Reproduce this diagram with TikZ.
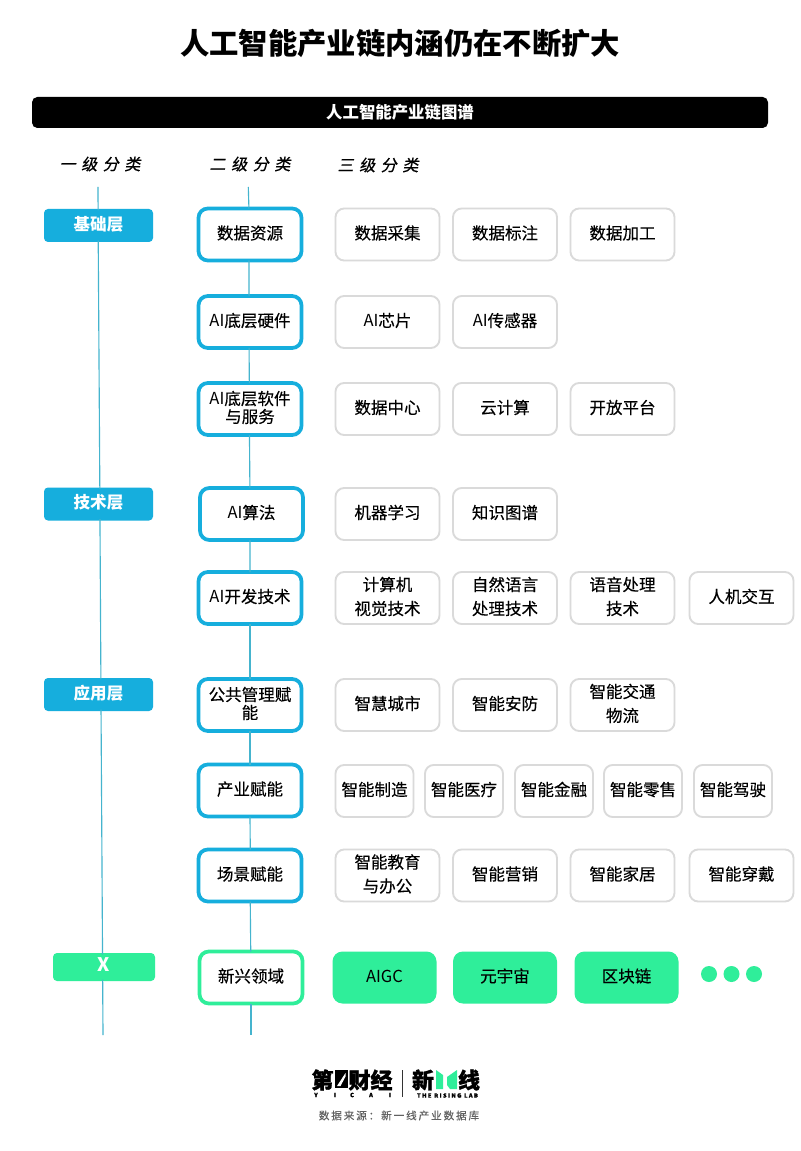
\documentclass[tikz,border=0pt]{standalone}
\usepackage{fontspec}
\setmainfont{Noto Sans CJK SC}
\newfontfamily\midfont[FakeBold=0.25]{Noto Sans CJK SC}
\newfontfamily\aifont{Noto Sans CJK SC}
\newfontfamily\headfont[FakeSlant=0.2,FakeBold=0.8,LetterSpace=35]{Noto Sans CJK SC}
\newfontfamily\srcfont[FakeBold=0.2,LetterSpace=17]{Noto Sans CJK SC}
\newfontfamily\logofont[BoldFeatures={FakeBold=1.2}]{Noto Sans CJK SC}
\newfontfamily\logolat[LetterSpace=22,BoldFeatures={FakeBold=1}]{Noto Sans CJK SC}
\definecolor{blue1}{HTML}{16AEDD}
\definecolor{line1}{HTML}{45B4CE}
\definecolor{green1}{HTML}{2FEE9A}
\definecolor{gray1}{HTML}{DADADA}
\newcommand{\AI}{{\aifont AI}}
\tikzset{
  size/.style 2 args={minimum width=#1*0.75pt,minimum height=#2*0.75pt},
  base/.style={inner sep=0pt,outer sep=0pt,align=center},
  oneline/.style={text height=10pt,text depth=2.8pt},
  twotight/.style={text height=23.5pt,text depth=2.8pt},
  twoloose/.style={text height=28pt,text depth=2.8pt},
  lone/.style={base,oneline,fill=blue1,rounded corners=3pt,text=white,font=\fontsize{12.4pt}{15pt}\bfseries\selectfont,size={109}{33}},
  ltwo/.style={base,oneline,draw=blue1,fill=white,line width=2.8pt,rounded corners=7pt,text=black,font=\midfont\fontsize{12.4pt}{13.5pt}\selectfont,size={103}{52}},
  lthree/.style={base,oneline,draw=gray1,fill=white,line width=1.4pt,rounded corners=6.5pt,text=black,font=\midfont\fontsize{12.4pt}{18pt}\selectfont,size={104}{52}},
  lgreen/.style={base,oneline,fill=green1,rounded corners=7.5pt,text=black,font=\midfont\fontsize{12.4pt}{18pt}\selectfont,size={104}{52}},
  conn/.style={draw=line1,line width=0.85pt},
  head/.style={base,font=\headfont\fontsize{12pt}{14pt}\selectfont},
  dotn/.style={circle,fill=green1,inner sep=0pt,outer sep=0pt,minimum size=12pt},
  logotext/.style={base,font=\logofont\bfseries\fontsize{16.5pt}{18pt}\selectfont},
  logosmall/.style={base,font=\logolat\bfseries\fontsize{4.4pt}{5pt}\selectfont}
}
\begin{document}
\begin{tikzpicture}[x=0.75pt,y=-0.75pt]
\useasboundingbox (0,0) rectangle (800,1151);
\fill[white] (0,0) rectangle (800,1151);
\node[base,font=\fontsize{22pt}{26pt}\bfseries\selectfont] (title) at (400,43) {人工智能产业链内涵仍在不断扩大};
\node[base,fill=black,rounded corners=4pt,text=white,size={736}{31},font=\fontsize{12.3pt}{15pt}\bfseries\selectfont] (bar) at (400,112.5) {人工智能产业链图谱};
\node[head] (h1) at (100,164) {一级分类};
\node[head] (h2) at (250,164) {二级分类};
\node[head] (h3) at (378,165) {三级分类};
% connector ends
\coordinate (t1) at (98,187);
\coordinate (t2) at (248.3,187);
\coordinate (b1) at (103,1035);
\coordinate (b2) at (251,1035);
% level 1
\node[lone] (a1) at (98.5,225.5) {基础层};
\node[lone] (a2) at (98.5,504) {技术层};
\node[lone] (a3) at (98.5,694.5) {应用层};
\node[lone,fill=green1,size={102}{28},font=\fontsize{14pt}{15pt}\bfseries\selectfont] (a4) at (104,967) {X};
% connectors
\draw[conn] (t1) -- ([xshift=-0.3pt,yshift=-1pt]a1.north);
\draw[conn] ([xshift=-0.2pt,yshift=1pt]a1.south) -- ([xshift=1pt,yshift=-1pt]a2.north);
\draw[conn] ([xshift=1.1pt,yshift=1pt]a2.south) -- ([xshift=1.8pt,yshift=-1pt]a3.north);
\draw[conn] ([xshift=1.9pt,yshift=1pt]a3.south) -- ([xshift=-1.1pt,yshift=-1pt]a4.north);
\draw[conn] ([xshift=-1pt,yshift=1pt]a4.south) -- (b1);
% level 2
\node[ltwo] (s1) at (250,234.5) {数据资源};
\node[ltwo] (s2) at (250,322) {\AI 底层硬件};
\node[ltwo,twotight] (s3) at (250,409) {\AI 底层软件\\与服务};
\node[ltwo] (s4) at (251.5,514) {\AI 算法};
\node[ltwo] (s5) at (250,598) {\AI 开发技术};
\node[ltwo,twotight] (s6) at (250,705) {公共管理赋\\能};
\node[ltwo] (s7) at (250,790.5) {产业赋能};
\node[ltwo] (s8) at (250,875.5) {场景赋能};
\node[ltwo,draw=green1] (s9) at (251,977.5) {新兴领域};
\draw[conn] (t2) -- ([xshift=-0.8pt]s1.north);
\draw[conn] ([xshift=-0.8pt]s1.south) -- ([xshift=-0.7pt]s2.north);
\draw[conn] ([xshift=-0.7pt]s2.south) -- ([xshift=-0.5pt]s3.north);
\draw[conn] ([xshift=-0.4pt]s3.south) -- ([xshift=-1.2pt]s4.north);
\draw[conn] ([xshift=-1.1pt]s4.south) -- (s5.north);
\draw[conn] (s5.south) -- (s6.north);
\draw[conn] (s6.south) -- (s7.north);
\draw[conn] (s7.south) -- ([xshift=0.2pt]s8.north);
\draw[conn] ([xshift=0.2pt]s8.south) -- ([xshift=-0.2pt]s9.north);
\draw[conn] (s9.south) -- (b2);
% level 3
\node[lthree] (c11) at (387.5,234.5) {数据采集};
\node[lthree] (c12) at (505,234.5) {数据标注};
\node[lthree] (c13) at (622.5,234.5) {数据加工};
\node[lthree] (c21) at (387.5,322) {\AI 芯片};
\node[lthree] (c22) at (505,322) {\AI 传感器};
\node[lthree] (c31) at (387.5,409) {数据中心};
\node[lthree] (c32) at (505,409) {云计算};
\node[lthree] (c33) at (622.5,409) {开放平台};
\node[lthree] (c41) at (387.5,514) {机器学习};
\node[lthree] (c42) at (505,514) {知识图谱};
\node[lthree,twoloose] (c51) at (387.5,598) {计算机\\视觉技术};
\node[lthree,twoloose] (c52) at (505,598) {自然语言\\处理技术};
\node[lthree,twoloose] (c53) at (622.5,598) {语音处理\\技术};
\node[lthree] (c54) at (741.5,598) {人机交互};
\node[lthree] (c61) at (387.5,705) {智慧城市};
\node[lthree] (c62) at (505,705) {智能安防};
\node[lthree,twoloose] (c63) at (622.5,705) {智能交通\\物流};
\node[lthree,size={78}{52}] (c71) at (374.5,791) {智能制造};
\node[lthree,size={78}{52}] (c72) at (464,791) {智能医疗};
\node[lthree,size={78}{52}] (c73) at (554,791) {智能金融};
\node[lthree,size={78}{52}] (c74) at (643,791) {智能零售};
\node[lthree,size={78}{52}] (c75) at (733,791) {智能驾驶};
\node[lthree,twoloose] (c81) at (387.5,875.5) {智能教育\\与办公};
\node[lthree] (c82) at (505,875.5) {智能营销};
\node[lthree] (c83) at (622.5,875.5) {智能家居};
\node[lthree] (c84) at (741.5,875.5) {智能穿戴};
% emerging
\node[lgreen,font=\fontsize{12.4pt}{18pt}\selectfont] (c91) at (384.5,977.5) {AIGC};
\node[lgreen] (c92) at (505,977.5) {元宇宙};
\node[lgreen] (c93) at (626.5,977.5) {区块链};
\node[dotn] (d1) at (709,974) {};
\node[dotn] (d2) at (731.5,974) {};
\node[dotn] (d3) at (754,974) {};
% logo
\node[logotext] (lg1) at (322.5,1080) {第};
\fill[black] (335,1070) rectangle (347.5,1088);
\fill[white] (337,1086) -- (345.5,1073) -- (345.5,1076.5) -- (340.5,1086) -- cycle;
\node[logotext] (lg2) at (370.5,1080) {财经};
\node[logosmall] (lg3) at (316,1095) {Y};
\node[logosmall] (lg4) at (335,1095) {I};
\node[logosmall] (lg5) at (352,1095) {C};
\node[logosmall] (lg6) at (371,1095) {A};
\node[logosmall] (lg7) at (390,1095) {I};
\fill[black!80] (401.8,1070) rectangle (402.6,1097);
\node[logotext] (lg8) at (423,1080) {新};
\fill[green1] (436,1070) -- (443,1075) -- (443,1089) -- (436,1089) -- cycle;
\fill[green1] (447,1077) -- (457,1070) -- (457,1089) -- (450,1089) -- (447,1085) -- cycle;
\node[logotext] (lg9) at (469,1080) {线};
\node[logosmall] (lg10) at (447.5,1095.5) {THE RISING LAB};
\node[base,text=black!62,font=\srcfont\fontsize{8pt}{10pt}\selectfont] (src) at (399,1115.5) {数据来源：新一线产业数据库};
\end{tikzpicture}
\end{document}
